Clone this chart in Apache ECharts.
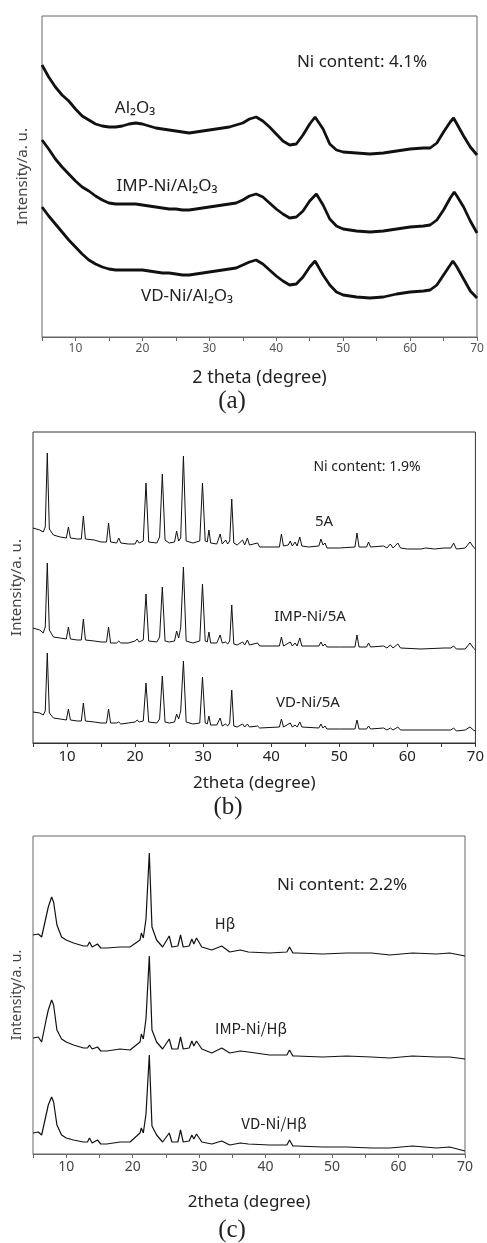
<!DOCTYPE html>
<html>
<head>
<meta charset="utf-8">
<script src="https://cdn.jsdelivr.net/npm/echarts@6/dist/echarts.min.js"></script>
<style>
  html, body { margin: 0; background: #fff; }
  #myChart { width: 487px; height: 1243px; }
</style>
</head>
<body>
<div id="myChart"></div>
<script type="text/javascript">

  // (a) Al2O3 supports, [2theta, intensity a.u.]
  var al2o3 = [[5,272],[6,260],[7,250],[8,242],[9,236],[10,228],[11,221],[12,217],[13,213],[14,211],[15,210],[16,210],[17,211],[18,213],[19,214],[20,213],[21,211],[22,209],[23,208],[24,207],[25,206],[26,205],[27,204],[28,205],[29,206],[30,207],[31,208],[32,209],[33,210],[34,212],[35,214],[36,218],[37,220],[38,216],[39,210],[40,203],[41,196],[42,192],[43,193],[44,202],[45,213],[45.8,220],[47,208],[48,193],[49,187],[50,185],[52,184],[54,183],[56,184],[58,186],[60,188],[62,189],[63,189],[64,194],[65,205],[66,215],[66.5,219],[67,213],[68,201],[69,190],[70,182]];
  var impAl = [[5,197],[6,188],[7,178],[8,170],[9,163],[10,156],[11,150],[12,146],[13,141],[14,137],[15,134],[16,133],[17,133],[18,133],[19,133],[20,132],[21,131],[22,130],[23,129],[24,128],[25,128],[26,127],[27,127],[28,128],[29,129],[30,130],[31,131],[32,132],[33,133],[34,134],[35,137],[36,141],[37,143],[38,140],[39,134],[40,128],[41,123],[42,119],[43,120],[44,126],[45,136],[46,143],[47,132],[48,118],[49,111],[50,108],[52,106],[54,105],[56,106],[58,108],[60,110],[62,111],[63,112],[64,117],[65,127],[66,139],[66.6,145],[67,141],[68,130],[69,116],[70,104]];
  var vdAl = [[5,130],[6,121],[7,113],[8,105],[9,97],[10,90],[11,83],[12,77],[13,73],[14,70],[15,68],[16,67],[17,67],[18,67],[19,67],[20,67],[21,66],[22,65],[23,64],[24,64],[25,63],[26,62],[27,62],[28,63],[29,64],[30,65],[31,66],[32,67],[33,68],[34,69],[35,72],[36,75],[37,77],[38,73],[39,67],[40,61],[41,56],[42,52],[43,53],[44,60],[45,70],[45.8,76],[47,62],[48,52],[49,45],[50,42],[52,40],[54,39],[56,40],[58,43],[60,45],[62,46],[63,47],[64,52],[65,62],[66.4,76],[67,70],[68,58],[69,46],[70,39]];

  // (b) 5A zeolite
  var z5a = [[5,215],[6,213],[6.5,211],[6.8,216],[7.1,290],[7.4,214],[8,208],[9,206],[9.9,205],[10.2,216],[10.5,205],[11.5,204],[12.1,204],[12.4,227],[12.7,204],[14,203],[15,201],[15.8,201],[16.1,220],[16.4,201],[17.3,200],[17.6,205],[17.9,200],[19,199],[20,199],[20.3,203],[20.6,200],[21.2,202],[21.6,260],[22,201],[23.2,200],[23.6,206],[24,269],[24.4,203],[25,200],[25.8,201],[26.1,212],[26.4,202],[26.7,205],[27.1,287],[27.5,202],[28.5,200],[29.5,202],[29.9,260],[30.3,202],[30.6,201],[30.85,213],[31.1,200],[32,199],[32.5,209],[32.8,199],[33.3,203],[33.6,199],[33.9,202],[34.2,244],[34.5,200],[35,198],[35.8,203],[36.1,198],[36.5,205],[36.8,198],[38,200],[38.3,196],[41.2,196],[41.5,209],[41.8,197],[42.5,198],[42.8,202],[43.1,197],[43.5,201],[43.8,197],[44.2,206],[44.5,197],[45.5,196],[47,197],[47.3,204],[47.6,198],[47.9,200],[48.2,195],[50,195],[52.3,196],[52.6,210],[52.9,196],[54,196],[54.3,201],[54.6,196],[56.5,197],[57,195],[57.5,199],[57.9,195],[58.6,200],[59,195],[60,194],[62,194],[62.7,195],[64,194],[65.4,195],[66.4,195],[66.8,200],[67.2,194],[68.5,195],[69.2,201],[69.7,196],[70,194]];
  var imp5a = [[5,115],[6,113],[6.5,110],[6.8,116],[7.1,180],[7.4,113],[8,106],[9,105],[9.9,104],[10.2,116],[10.5,104],[11.5,103],[12.1,103],[12.4,124],[12.7,103],[14,102],[15,101],[15.8,101],[16.1,116],[16.4,100],[17.3,100],[17.6,102],[17.9,100],[19,100],[20,102],[20.3,104],[20.6,101],[21.2,103],[21.6,149],[22,102],[23.2,101],[23.6,106],[24,156],[24.4,102],[25,101],[25.8,102],[26.1,112],[26.4,105],[26.7,115],[27.1,176],[27.5,102],[28.5,100],[29.5,102],[29.9,159],[30.3,102],[30.6,101],[30.85,111],[31.1,100],[32,100],[32.5,108],[32.8,100],[33.3,101],[33.6,99],[33.9,102],[34.2,138],[34.5,99],[35,98],[35.8,101],[36.1,98],[36.5,103],[36.8,98],[38,100],[38.3,97],[41.2,97],[41.5,106],[41.8,97],[42.8,101],[43.1,97],[43.5,100],[43.8,97],[44.2,105],[44.5,97],[47,97],[47.3,101],[47.6,97],[47.9,99],[48.2,96],[50,96],[52.3,96],[52.6,108],[52.9,96],[54,96],[54.3,100],[54.6,96],[56.5,97],[57,95],[57.5,98],[57.9,95],[58.6,99],[59,95],[62,94],[65.4,95],[66.4,95],[66.8,97],[67.2,94],[68.5,94],[69.2,100],[69.7,95],[70,93]];
  var vd5a = [[5,31],[6,30],[6.5,28],[6.8,32],[7.1,90],[7.4,30],[8,25],[9,24],[9.9,23],[10.2,34],[10.5,23],[11.5,22],[12.1,22],[12.4,40],[12.7,22],[14,21],[15,20],[15.8,20],[16.1,34],[16.4,20],[17.3,20],[17.6,21],[17.9,19],[19,20],[20,21],[20.3,23],[20.6,21],[21.2,22],[21.6,60],[22,21],[23.2,20],[23.6,24],[24,67],[24.4,21],[25,20],[25.8,21],[26.1,29],[26.4,24],[26.7,32],[27.1,82],[27.5,21],[28.5,19],[29.5,20],[29.9,66],[30.3,20],[30.6,19],[30.85,27],[31.1,18],[32,18],[32.5,25],[32.8,17],[33.3,19],[33.6,17],[33.9,20],[34.2,53],[34.5,17],[35,16],[35.8,19],[36.1,16],[36.5,19],[36.8,16],[38,17],[38.3,15],[41.2,16],[41.5,24],[41.8,16],[42.8,20],[43.1,16],[43.5,18],[43.8,16],[44.2,21],[44.5,16],[47,15],[47.3,19],[47.6,15],[47.9,17],[48.2,14],[50,14],[52.3,14],[52.6,23],[52.9,14],[54,14],[54.3,17],[54.6,14],[56.5,15],[57,13],[57.5,15],[57.9,13],[58.6,16],[59,13],[62,13],[65.4,13],[66.4,13],[66.8,15],[67.2,12],[68.5,13],[69.2,16],[69.7,13],[70,12]];

  // (c) H-beta zeolite
  var hb = [[5,219],[5.8,220],[6.3,217],[7,238],[7.3,247],[7.8,257],[8.1,252],[8.6,229],[9.3,217],[10,214],[11.1,211],[12.6,208],[13.2,208],[13.5,212],[13.9,207],[14.7,210],[15.2,206],[16.1,206],[18.1,207],[19.6,207],[21.1,214],[21.3,221],[21.6,216],[22,235],[22.5,301],[22.9,227],[23.6,214],[24.5,207],[25.5,218],[25.9,207],[26.8,208],[27.2,219],[27.6,207],[28.5,208],[28.9,215],[29.2,210],[29.6,216],[30.4,207],[31.9,204],[33.4,208],[34.6,202],[36.2,204],[37.4,202],[40.6,201],[43.2,202],[43.6,207],[44.1,201],[44.6,201],[48.6,200],[52.2,201],[55.9,201],[58.7,199],[62.1,201],[65.7,200],[67.7,201],[70,198]];
  var impHb = [[5,116],[5.8,117],[6.3,112],[7,135],[7.3,144],[7.8,154],[8.1,149],[8.6,124],[9.3,115],[10,112],[11.1,109],[12.6,106],[13.2,106],[13.5,109],[13.9,105],[14.7,107],[15.2,103],[16.1,103],[18.1,105],[19.6,104],[21.1,112],[21.3,120],[21.6,115],[22,135],[22.5,198],[22.9,124],[23.6,112],[24.5,105],[25.5,115],[25.9,105],[26.8,105],[27.2,117],[27.6,105],[28.5,106],[28.9,113],[29.2,108],[29.6,113],[30.4,105],[31.9,101],[33.4,106],[34.6,101],[36.2,103],[37.4,102],[40.6,99],[43.2,99],[43.6,104],[44.1,98],[44.6,98],[48.6,97],[52.2,98],[55.9,97],[58.7,96],[62.1,98],[65.7,97],[67.7,97],[70,95]];
  var vdHb = [[5,21],[5.8,22],[6.3,19],[7,40],[7.3,49],[7.8,57],[8.1,52],[8.6,29],[9.3,19],[10,16],[11.1,14],[12.6,12],[13.2,12],[13.5,16],[13.9,11],[14.7,14],[15.2,10],[16.1,10],[18.1,12],[19.6,12],[21.1,21],[21.3,26],[21.6,21],[22,40],[22.5,99],[22.9,28],[23.6,19],[24.5,12],[25.5,21],[25.9,12],[26.8,12],[27.2,24],[27.6,12],[28.5,13],[28.9,19],[29.2,15],[29.6,20],[30.4,12],[31.9,10],[33.4,13],[34.6,9],[36.2,11],[37.4,10],[40.6,9],[43.2,9],[43.6,14],[44.1,8],[44.6,8],[48.6,7],[52.2,7],[55.9,6],[58.7,6],[62.1,8],[65.7,6],[67.7,7],[70,3]];

  var xTicks = [5, 70, 5]; // min, max, interval

  var chartDom = document.getElementById('myChart');
  var myChart = echarts.init(chartDom);

  function xAxis(idx, labelSize, labelColor, lineColor, name, nameSize, nameGap) {
    return {
      type: 'value', gridIndex: idx,
      min: xTicks[0], max: xTicks[1], interval: xTicks[2],
      name: name, nameLocation: 'middle', nameGap: nameGap,
      nameTextStyle: { fontFamily: 'Noto Sans', fontSize: nameSize, color: '#222' },
      axisLine: { lineStyle: { color: lineColor, width: 1 } },
      axisTick: { length: 4, lineStyle: { color: lineColor } },
      axisLabel: {
        fontFamily: 'Noto Sans', fontSize: labelSize, color: labelColor, margin: 6,
        formatter: function (v) { return v % 10 === 0 ? v : ''; }
      },
      splitLine: { show: false }
    };
  }

  function yAxis(idx, max, nameSize, nameGap) {
    return {
      type: 'value', gridIndex: idx, min: 0, max: max,
      name: 'Intensity/a. u.', nameLocation: 'middle', nameRotate: 90, nameGap: nameGap,
      nameTextStyle: { fontFamily: 'Noto Sans', fontSize: nameSize, color: '#444' },
      axisLine: { show: false }, axisTick: { show: false },
      axisLabel: { show: false }, splitLine: { show: false }
    };
  }

  function line(data, idx, width) {
    return {
      type: 'line', data: data, xAxisIndex: idx, yAxisIndex: idx,
      showSymbol: false, silent: true,
      lineStyle: { color: '#111', width: width }
    };
  }

  function label(x, y, text, size, font, weight) {
    return {
      type: 'text', x: x, y: y, silent: true,
      style: {
        text: text, fill: '#222', align: 'center', verticalAlign: 'middle',
        font: (weight || 'normal') + ' ' + size + 'px ' + (font || '"Noto Sans", "DejaVu Sans"')
      }
    };
  }

  var serif = '"Liberation Serif", serif';
  var cjk = '"Noto Sans CJK KR", "Noto Sans"';

  var option = {
    backgroundColor: '#fff',
    animation: false,
    grid: [
      { left: 42, top: 16, width: 435, height: 321, show: true, borderColor: '#666', borderWidth: 1 },
      { left: 33, top: 432, width: 445, height: 311, show: true, borderColor: '#333', borderWidth: 1 },
      { left: 33, top: 836, width: 432, height: 318, show: true, borderColor: '#666', borderWidth: 1 }
    ],
    xAxis: [
      xAxis(0, 12, '#555', '#666', '2 theta (degree)', 18, 32),
      xAxis(1, 15, '#222', '#333', '2theta (degree)', 17, 32),
      xAxis(2, 14, '#444', '#666', '2theta (degree)', 17, 40)
    ],
    yAxis: [
      yAxis(0, 321, 15, 12),
      yAxis(1, 311, 15, 9),
      yAxis(2, 318, 14, 9)
    ],
    series: [
      line(al2o3, 0, 2.8), line(impAl, 0, 2.8), line(vdAl, 0, 2.8),
      line(z5a, 1, 1), line(imp5a, 1, 1), line(vd5a, 1, 1),
      line(hb, 2, 1.2), line(impHb, 2, 1.2), line(vdHb, 2, 1.2)
    ],
    graphic: [
      label(362, 62, 'Ni content: 4.1%', 17),
      label(135, 108, 'Al₂O₃', 17),
      label(167, 186, 'IMP-Ni/Al₂O₃', 17),
      label(187, 296, 'VD-Ni/Al₂O₃', 17),
      label(232, 401, '(a)', 25, serif),
      label(367, 467, 'Ni content: 1.9%', 14),
      label(324, 522, '5A', 15),
      label(310, 617, 'IMP-Ni/5A', 15),
      label(308, 703, 'VD-Ni/5A', 15),
      label(228, 807, '(b)', 25, serif),
      label(342, 885, 'Ni content: 2.2%', 17),
      label(225, 923, 'Hβ', 15, cjk),
      label(251, 1028, 'IMP-Ni/Hβ', 15, cjk),
      label(274, 1123, 'VD-Ni/Hβ', 15, cjk),
      label(232, 1230, '(c)', 25, serif)
    ]
  };

  myChart.setOption(option);
</script>
</body>
</html>
